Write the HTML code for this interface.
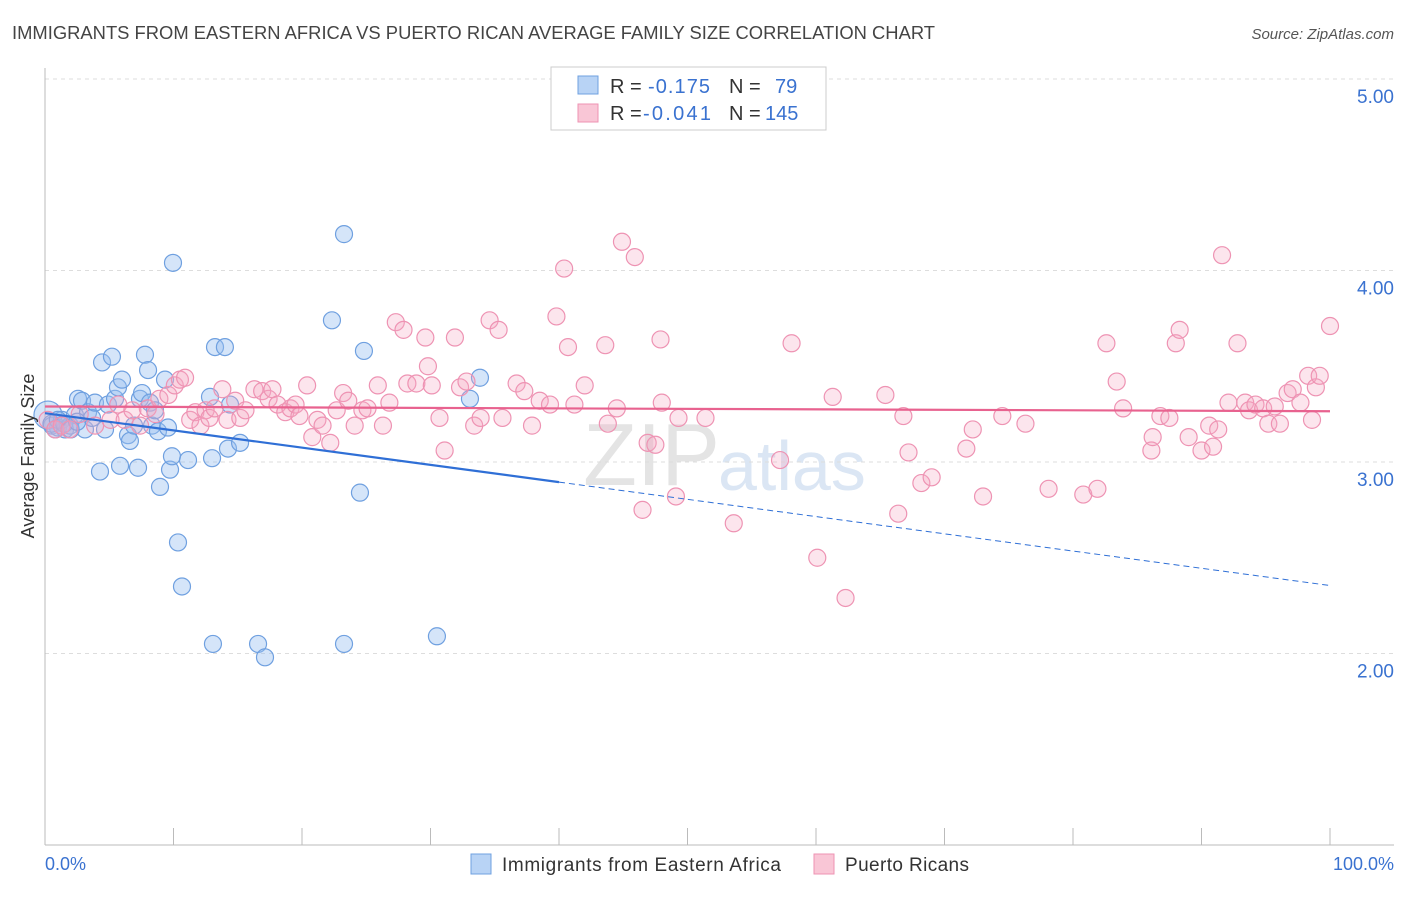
<!DOCTYPE html>
<html><head><meta charset="utf-8"><style>
body{margin:0;background:#fff;font-family:"Liberation Sans",sans-serif;}
svg text{font-family:"Liberation Sans",sans-serif;}
</style></head><body>
<svg id="chart" width="1406" height="892">
<text x="12" y="39" font-size="18" fill="#444" textLength="923" lengthAdjust="spacingAndGlyphs">IMMIGRANTS FROM EASTERN AFRICA VS PUERTO RICAN AVERAGE FAMILY SIZE CORRELATION CHART</text>
<text x="1394" y="39" font-size="15" fill="#555" text-anchor="end" font-style="italic">Source: ZipAtlas.com</text>
<text x="720" y="485" font-size="88" fill="#e4e4e4" text-anchor="end" font-family="Liberation Serif">ZIP</text>
<text x="718" y="490" font-size="70" fill="#dbe6f4">atlas</text>
<g id="grid"></g><g id="axes"></g><g id="pts"></g><g id="lines"></g>
<g>
<rect x="551" y="67" width="275" height="63" fill="#fff" stroke="#ccc"/>
<rect x="578" y="76" width="20" height="18" fill="#b8d3f5" stroke="#6fa0e0"/>
<rect x="578" y="104" width="20" height="18" fill="#f9c6d6" stroke="#ee93b3"/>
<text x="610" y="93" font-size="20" fill="#333">R =</text><text x="648" y="93" font-size="20" fill="#3a72d0" textLength="62">-0.175</text>
<text x="729" y="93" font-size="20" fill="#333">N =</text><text x="775" y="93" font-size="20" fill="#3a72d0">79</text>
<text x="610" y="120" font-size="20" fill="#333">R =</text><text x="643" y="120" font-size="20" fill="#3a72d0" textLength="68">-0.041</text>
<text x="729" y="120" font-size="20" fill="#333">N =</text><text x="765" y="120" font-size="20" fill="#3a72d0">145</text>
</g>
<text x="45" y="870" font-size="18" fill="#3a72d0">0.0%</text>
<text x="1394" y="870" font-size="18" fill="#3a72d0" text-anchor="end">100.0%</text>
<text transform="translate(34,456) rotate(-90)" font-size="18" fill="#333" text-anchor="middle">Average Family Size</text>
<g>
<rect x="471" y="854" width="20" height="20" fill="#b8d3f5" stroke="#6fa0e0"/>
<text x="502" y="871" font-size="19" fill="#333" textLength="279">Immigrants from Eastern Africa</text>
<rect x="814" y="854" width="20" height="20" fill="#f9c6d6" stroke="#ee93b3"/>
<text x="845" y="871" font-size="19" fill="#333" textLength="124">Puerto Ricans</text>
</g>
</svg>
<script>
const yTicks=[5,4,3,2];
const yTickLabels=["5.00","4.00","3.00","2.00"];
const xTicks=[0,10,20,30,40,50,60,70,80,90,100];
const blueX=[0.23,0.54,1.01,1.32,1.56,1.95,2.33,2.57,2.88,3.11,3.35,3.66,3.89,4.28,4.44,4.67,4.90,5.21,5.45,5.68,5.84,5.99,6.46,6.61,6.93,7.24,7.39,7.55,7.78,8.02,8.17,8.33,8.56,8.79,8.95,9.34,9.57,9.73,9.88,9.96,10.35,10.66,11.13,12.84,13.0,13.07,13.23,14.0,14.24,14.4,15.18,16.58,17.12,22.33,23.27,23.27,24.51,24.82,30.5,33.07,33.85,0.5,1.0,1.5,2.0,2.5,0.8];
const blueY=[3.245,3.19,3.18,3.22,3.17,3.19,3.245,3.33,3.32,3.17,3.26,3.23,3.31,2.95,3.52,3.17,3.30,3.55,3.33,3.39,2.98,3.43,3.14,3.11,3.19,2.97,3.33,3.36,3.56,3.48,3.31,3.19,3.27,3.16,2.87,3.43,3.18,2.96,3.03,4.04,2.58,2.35,3.01,3.34,3.02,2.05,3.60,3.60,3.07,3.30,3.10,2.05,1.98,3.74,4.19,2.05,2.84,3.58,2.09,3.33,3.44,3.2,3.22,3.2,3.17,3.21,3.17];
const pinkX=[0.2,0.8,1.3,1.9,2.7,3.9,5.1,5.7,6.2,6.8,7.4,8.0,8.6,8.9,9.6,10.1,10.5,10.9,11.3,11.7,12.1,12.5,12.8,13.2,13.8,14.2,14.8,15.2,15.6,16.3,16.9,17.4,17.7,18.1,18.7,19.1,19.5,19.8,20.4,20.8,21.2,21.6,22.2,22.7,23.2,23.6,24.1,24.7,25.1,25.9,26.3,26.8,27.3,27.9,28.2,28.9,29.6,29.8,30.1,30.7,31.1,31.9,32.3,32.8,33.4,33.9,34.6,35.3,35.6,36.7,37.3,37.9,38.5,39.3,39.8,40.4,40.7,41.2,42.0,43.6,43.8,44.5,44.9,45.9,46.5,46.9,47.5,47.9,48.0,49.1,49.3,51.4,53.6,57.2,58.1,60.1,61.3,62.3,65.4,66.4,66.8,67.2,68.2,69.0,71.7,72.2,73.0,74.5,76.3,78.1,80.8,81.9,82.6,83.4,83.9,86.1,86.2,86.8,87.5,88.0,88.3,89.0,90.0,90.6,90.9,91.3,91.6,92.1,92.8,93.4,93.7,94.2,94.8,95.2,95.7,96.1,96.7,97.1,97.7,98.3,98.6,98.9,99.2,100];
const pinkY=[3.22,3.17,3.19,3.17,3.25,3.19,3.22,3.30,3.22,3.27,3.19,3.28,3.25,3.33,3.35,3.40,3.43,3.44,3.22,3.26,3.19,3.27,3.23,3.28,3.38,3.22,3.32,3.23,3.27,3.38,3.37,3.33,3.38,3.30,3.26,3.28,3.30,3.24,3.40,3.13,3.22,3.19,3.10,3.27,3.36,3.32,3.19,3.27,3.28,3.40,3.19,3.31,3.73,3.69,3.41,3.41,3.65,3.50,3.40,3.23,3.06,3.65,3.39,3.42,3.19,3.23,3.74,3.69,3.23,3.41,3.37,3.19,3.32,3.30,3.76,4.01,3.60,3.30,3.40,3.61,3.20,3.28,4.15,4.07,2.75,3.10,3.09,3.64,3.31,2.82,3.23,3.23,2.68,3.01,3.62,2.50,3.34,2.29,3.35,2.73,3.24,3.05,2.89,2.92,3.07,3.17,2.82,3.24,3.20,2.86,2.83,2.86,3.62,3.42,3.28,3.06,3.13,3.24,3.23,3.62,3.69,3.13,3.06,3.19,3.08,3.17,4.08,3.31,3.62,3.31,3.27,3.30,3.28,3.20,3.29,3.20,3.36,3.38,3.31,3.45,3.22,3.39,3.45,3.71];
const blueTrend=[3.255,2.355];
const pinkTrend=[3.29,3.265];

const X0=45,X1=1330,YB=845,YT=79,VMIN=1,VMAX=5;
const sx=v=>X0+(v/100)*(X1-X0);
const sy=v=>YB-(v-VMIN)/(VMAX-VMIN)*(YB-YT);
const NS="http://www.w3.org/2000/svg";
function mk(tag,attrs,parent){const e=document.createElementNS(NS,tag);for(const k in attrs)e.setAttribute(k,attrs[k]);parent.appendChild(e);return e;}
const grid=document.getElementById('grid'),axes=document.getElementById('axes'),pts=document.getElementById('pts'),lines=document.getElementById('lines');
yTicks.forEach((t,i)=>{
 const l=mk('line',{x1:X0,x2:1394,y1:sy(t),y2:sy(t),stroke:'#ddd','stroke-dasharray':'4,4'},grid);
 
 
 const tx=mk('text',{x:1394,y:sy(t)+24,'font-size':19,fill:'#3a72d0','text-anchor':'end'},grid);
 tx.textContent=yTickLabels[i];
 
 
});
const ya=mk('line',{x1:X0,x2:X0,y1:68,y2:YB,stroke:'#bbb'},axes);


const xa=mk('line',{x1:X0,x2:1394,y1:YB,y2:YB,stroke:'#bbb'},axes);


xTicks.forEach(t=>{
 const l=mk('line',{x1:sx(t),x2:sx(t),y1:828,y2:YB,stroke:'#bbb'},axes);
 
 
});
blueX.forEach((x,i)=>{
 const c=mk('circle',{cx:sx(x),cy:sy(blueY[i]),r:i===0?14:8.5,fill:'rgba(150,190,240,0.4)',stroke:'#6fa0e0','stroke-width':1.2},pts);
 
 
});
pinkX.forEach((x,i)=>{
 const c=mk('circle',{cx:sx(x),cy:sy(pinkY[i]),r:8.5,fill:'rgba(245,170,195,0.3)',stroke:'#ee93b3','stroke-width':1.2},pts);
 
 
});
const bAt=p=>blueTrend[0]+(blueTrend[1]-blueTrend[0])*p/100;
const bs=mk('line',{x1:sx(0),y1:sy(bAt(0)),x2:sx(40),y2:sy(bAt(40)),stroke:'#2f6fd6','stroke-width':2.2},lines);


const bd=mk('line',{x1:sx(40),y1:sy(bAt(40)),x2:sx(100),y2:sy(bAt(100)),stroke:'#2f6fd6','stroke-width':1,'stroke-dasharray':'6,4'},lines);


const pl=mk('line',{x1:sx(0),y1:sy(pinkTrend[0]),x2:sx(100),y2:sy(pinkTrend[1]),stroke:'#e8628f','stroke-width':2.2},lines);


</script>
</body></html>
